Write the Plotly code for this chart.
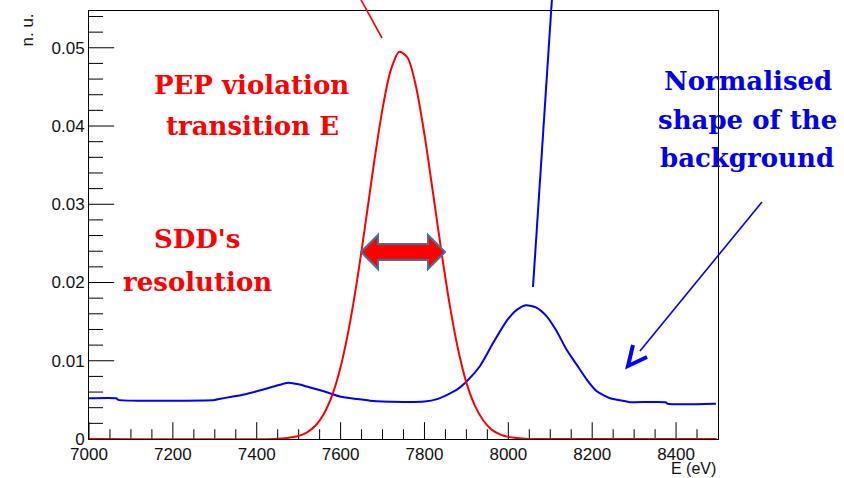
import plotly.graph_objects as go

# ---- data ----
red_E = [7000, 7440, 7460, 7480, 7500, 7520, 7540, 7560, 7580, 7600, 7620, 7640, 7660,
         7680, 7700, 7720, 7740, 7760, 7780, 7800, 7820, 7840, 7860, 7880, 7900, 7920,
         7940, 7960, 7980, 8000, 8020, 8040, 8060, 8497]
red_val = [0.0, 0.0, 0.00007, 0.00018, 0.0004, 0.00086, 0.0017, 0.0032, 0.0056, 0.0092,
           0.0142, 0.0205, 0.0278, 0.0354, 0.0422, 0.0472, 0.0495, 0.0487, 0.0450, 0.0389,
           0.0316, 0.0241, 0.0172, 0.0115, 0.0072, 0.0043, 0.0024, 0.0012, 0.0006, 0.00027,
           0.00012, 0.00004, 0.0, 0.0]

blue_E = [7000, 7065, 7070, 7300, 7310, 7340, 7370, 7400, 7440, 7475, 7500, 7520, 7560,
          7600, 7640, 7670, 7700, 7800, 7830, 7860, 7880, 7905, 7932, 7964, 7996, 8020,
          8042, 8067, 8091, 8115, 8139, 8163, 8187, 8211, 8243, 8282, 8290, 8375, 8380, 8495]
blue_val = [0.0052, 0.0052, 0.0050, 0.0050, 0.0051, 0.0054, 0.0057, 0.0061, 0.0067, 0.0072,
            0.0070, 0.0067, 0.0061, 0.0054, 0.0051, 0.0049, 0.0048, 0.0048, 0.0051, 0.0058,
            0.0064, 0.0076, 0.0093, 0.0123, 0.0151, 0.0165, 0.0171, 0.0168, 0.0157, 0.0138,
            0.0114, 0.0095, 0.0076, 0.0061, 0.0052, 0.0048, 0.0047, 0.0047, 0.0045, 0.0045]

# axis ticks
x_major = [7000, 7200, 7400, 7600, 7800, 8000, 8200, 8400]
x_minor = [7050, 7100, 7150, 7250, 7300, 7350, 7450, 7500, 7550, 7650, 7700, 7750,
           7850, 7900, 7950, 8050, 8100, 8150, 8250, 8300, 8350, 8450]
y_major = [0.0, 0.01, 0.02, 0.03, 0.04, 0.05]
y_minor = [0.002, 0.004, 0.006, 0.008, 0.012, 0.014, 0.016, 0.018, 0.022, 0.024, 0.026,
           0.028, 0.032, 0.034, 0.036, 0.038, 0.042, 0.044, 0.046, 0.048, 0.052, 0.054]

x_range = [7000, 8500]
y_range = [0, 0.0547]

# ---- layout geometry (pixels) ----
W, H = 844, 478
L, R, T, B = 89, 718, 11, 439


def px(x):
    return (x - L) / (R - L)


def py(y):
    return (B - y) / (B - T)


fig = go.Figure()


def tick_trace(xs, ys, symbol, size):
    return go.Scatter(x=xs, y=ys, mode="markers", hoverinfo="skip", showlegend=False,
                      cliponaxis=True,
                      marker=dict(symbol=symbol, size=size, color="black",
                                  line=dict(color="black", width=1)))


# tick marks (half of each marker is clipped by the plot area -> inside ticks)
fig.add_trace(tick_trace(x_major, [y_range[0]] * len(x_major), "line-ns-open", 24))
fig.add_trace(tick_trace(x_minor, [y_range[0]] * len(x_minor), "line-ns-open", 14))
fig.add_trace(tick_trace([x_range[0]] * len(y_major), y_major, "line-ew-open", 36))
fig.add_trace(tick_trace([x_range[0]] * len(y_minor), y_minor, "line-ew-open", 20))

fig.add_trace(go.Scatter(x=blue_E, y=blue_val, mode="lines",
                         line=dict(color="#0000ff", width=2, shape="spline", smoothing=0.6),
                         showlegend=False))
fig.add_trace(go.Scatter(x=red_E, y=red_val, mode="lines",
                         line=dict(color="#ff0000", width=2, shape="spline", smoothing=0.8),
                         showlegend=False))

tickfont = dict(family="Liberation Sans, Arial, sans-serif", size=17, color="#111")

fig.update_layout(
    width=W, height=H,
    margin=dict(l=L, r=W - R, t=T, b=H - B),
    plot_bgcolor="white",
    xaxis=dict(range=x_range, showgrid=False, zeroline=False, showline=True, mirror=True,
               linecolor="black", ticks="", tickmode="array", tickvals=x_major,
               tickfont=tickfont),
    yaxis=dict(range=y_range, showgrid=False, zeroline=False, showline=True, mirror=True,
               linecolor="black", ticks="", tickmode="array", tickvals=y_major,
               ticktext=["0", "0.01", "0.02", "0.03", "0.04", "0.05"],
               tickfont=tickfont),
)

ann = []
# axis titles
ann.append(dict(text="E (eV)", x=1, y=py(468), xref="paper", yref="paper",
                xanchor="right", yanchor="middle", showarrow=False,
                font=dict(family="Liberation Sans, Arial, sans-serif", size=16, color="#111")))
ann.append(dict(text="n. u.", x=px(27), y=py(12), xref="paper", yref="paper",
                xanchor="center", yanchor="top", showarrow=False, textangle=-90,
                font=dict(family="Liberation Sans, Arial, sans-serif", size=17, color="#111")))

serif = "DejaVu Serif"
labels = [
    ("PEP violation", 251, 85, "#ff0000"),
    ("transition E", 252, 126, "#ff0000"),
    ("SDD's", 197, 239, "#ff0000"),
    ("resolution", 197, 282, "#ff0000"),
    ("Normalised", 748, 81, "#0000ee"),
    ("shape of the", 747, 120, "#0000ee"),
    ("background", 747, 158, "#0000ee"),
]
for t, cx, cy, c in labels:
    ann.append(dict(text="<b>%s</b>" % t, x=px(cx), y=py(cy), xref="paper", yref="paper",
                    xanchor="center", yanchor="middle", showarrow=False,
                    font=dict(family=serif, size=26, color=c)))
fig.update_layout(annotations=ann)

shapes = []
# red pointer line to the peak
shapes.append(dict(type="line", xref="paper", yref="paper",
                   x0=px(360), y0=py(-2), x1=px(382), y1=py(38),
                   line=dict(color="#ff0000", width=1.6), layer="above"))
# blue pointer line to background peak
shapes.append(dict(type="line", xref="paper", yref="paper",
                   x0=px(552), y0=py(-2), x1=px(533), y1=py(287),
                   line=dict(color="#0000ff", width=2), layer="above"))
# blue arrow to the background tail
shapes.append(dict(type="line", xref="paper", yref="paper",
                   x0=px(762), y0=py(202), x1=px(640), y1=py(351),
                   line=dict(color="#0000ff", width=1.6), layer="above"))


def pth(pts, close=False):
    s = "M " + " L ".join("%f,%f" % (px(a), py(b)) for a, b in pts)
    return s + (" Z" if close else "")


# chevron arrowhead (open V)
shapes.append(dict(type="path", xref="paper", yref="paper",
                   path=pth([(633, 345), (628, 366), (647, 357)]),
                   line=dict(color="#0000ff", width=4), layer="above"))
# double-headed red arrow with blue-grey outline
dbl = [(361, 252), (378, 235), (378, 244), (428, 244), (428, 235), (445, 252),
       (428, 269), (428, 260), (378, 260), (378, 269)]
shapes.append(dict(type="path", xref="paper", yref="paper", path=pth(dbl, True),
                   fillcolor="#ff0000", line=dict(color="#41719c", width=2), layer="above"))
fig.update_layout(shapes=shapes)

fig.write_html("out.html")
